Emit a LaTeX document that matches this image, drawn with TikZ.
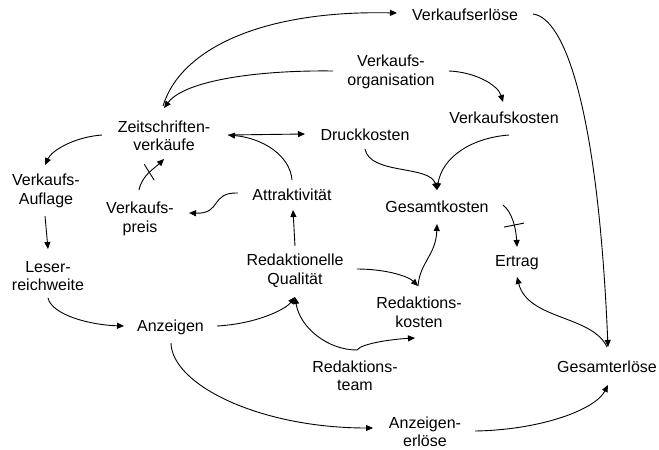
\documentclass[tikz,border=0pt]{standalone}
\usepackage{fontspec}
\setmainfont{Liberation Sans}
\usetikzlibrary{arrows.meta}
\begin{document}
\begin{tikzpicture}[x=1pt,y=-1pt,
  lbl/.style={align=center,inner sep=0pt,font=\fontsize{16}{18.5}\selectfont},
  conn/.style={line width=0.9pt,-{Triangle[length=7pt,width=6pt]}},
  barmark/.style={line width=0.9pt}]
\useasboundingbox (0,0) rectangle (659,450);
% nodes
\node[lbl] (zv) at (164,136) {Zeitschriften-\\verkäufe};
\node[lbl] (ve) at (465,15) {Verkaufserlöse};
\node[lbl] (vo) at (391,72) {Verkaufs-\\organisation};
\node[lbl] (dk) at (365,135) {Druckkosten};
\node[lbl] (vk) at (504,118) {Verkaufskosten};
\node[lbl] (va) at (46,191) {Verkaufs-\\Auflage};
\node[lbl] (vp) at (140,219) {Verkaufs-\\preis};
\node[lbl] (at) at (292,195) {Attraktivität};
\node[lbl] (gk) at (437,207) {Gesamtkosten};
\node[lbl] (lr) at (48,276) {Leser-\\reichweite};
\node[lbl] (rq) at (295,270.5) {Redaktionelle\\Qualität};
\node[lbl] (er) at (517,263) {Ertrag};
\node[lbl] (rk) at (419,312.5) {Redaktions-\\kosten};
\node[lbl] (an) at (170.5,327) {Anzeigen};
\node[lbl] (rt) at (355,376) {Redaktions-\\team};
\node[lbl] (ge) at (607,367) {Gesamterlöse};
\node[lbl] (ae) at (425,432) {Anzeigen-\\erlöse};
% connectors
\draw[conn] ([xshift=-1pt,yshift=30pt]zv.center) .. controls (180,50) and (260,10) .. ([xshift=-68pt,yshift=2pt]ve.center);
\draw[conn] ([xshift=-58pt,yshift=1pt]vo.center) .. controls (260,70) and (185,80) .. ([xshift=0pt,yshift=28pt]zv.center);
\draw[conn] ([xshift=64pt,yshift=1pt]zv.center) -- ([xshift=-60pt,yshift=1pt]dk.center);
\draw[conn] ([yshift=15pt]at.center) .. controls (290,155) and (262,138) .. ([xshift=64pt,yshift=1pt]zv.center);
\draw[conn] ([xshift=-62pt,yshift=1pt]zv.center) .. controls (75,137) and (52,150) .. ([xshift=-1pt,yshift=26pt]va.center);
\draw[conn] ([xshift=-1pt,yshift=-25pt]va.center) -- ([yshift=27pt]lr.center);
\draw[conn] ([yshift=-22pt]lr.center) .. controls (52,315) and (90,325) .. ([xshift=-46.5pt,yshift=1pt]an.center);
\draw[conn] ([xshift=46.5pt,yshift=1pt]an.center) .. controls (255,324) and (285,310) .. ([yshift=-26.5pt]rq.center);
\draw[conn] ([xshift=2pt,yshift=26pt]rt.center) .. controls (328,350) and (300,328) .. ([yshift=-26.5pt]rq.center);
\draw[conn] ([xshift=2pt,yshift=26pt]rt.center) .. controls (362,343) and (395,339) .. ([xshift=-4pt,yshift=-25.5pt]rk.center);
\draw[conn] ([yshift=24.5pt]rq.center) -- ([xshift=1pt,yshift=-15pt]at.center);
\draw[conn] ([xshift=-54pt,yshift=2pt]at.center) .. controls (210,192) and (222,214) .. ([xshift=49pt,yshift=6pt]vp.center);
\draw[conn] ([xshift=-1pt,yshift=29pt]vp.center) .. controls (142,175) and (155,168) .. coordinate[pos=0.5] (m1) ([yshift=-23pt]zv.center);
\draw[barmark] ([xshift=-5pt,yshift=8pt]m1) -- ([xshift=5pt,yshift=-8pt]m1);
\draw[conn] ([xshift=58pt,yshift=1pt]vo.center) .. controls (475,72) and (498,85) .. ([xshift=-1pt,yshift=16pt]vk.center);
\draw[conn] ([yshift=-14pt]dk.center) .. controls (370,175) and (430,165) .. ([yshift=17pt]gk.center);
\draw[conn] ([xshift=5pt,yshift=-17pt]vk.center) .. controls (470,138) and (442,158) .. ([yshift=17pt]gk.center);
\draw[conn] ([xshift=66pt,yshift=2pt]gk.center) .. controls (512,212) and (516,228) .. coordinate[pos=0.58] (m2) ([yshift=16pt]er.center);
\draw[barmark] ([xshift=-10pt,yshift=-2pt]m2) -- ([xshift=10pt,yshift=2pt]m2);
\draw[conn] ([xshift=-1pt,yshift=26.5pt]rk.center) .. controls (420,262) and (436,255) .. ([yshift=-17pt]gk.center);
\draw[conn] ([xshift=62pt,yshift=1.5pt]rq.center) .. controls (385,269) and (408,276) .. ([xshift=-1pt,yshift=26.5pt]rk.center);
\draw[conn] ([yshift=20pt]ge.center) .. controls (592,315) and (528,320) .. ([yshift=-14pt]er.center);
\draw[conn] ([xshift=68pt,yshift=1pt]ve.center) .. controls (565,18) and (598,110) .. ([xshift=1pt,yshift=20pt]ge.center);
\draw[conn] ([xshift=0.5pt,yshift=-16pt]an.center) .. controls (172,385) and (260,428) .. ([xshift=-52pt,yshift=4pt]ae.center);
\draw[conn] ([xshift=50pt,yshift=1pt]ae.center) .. controls (540,430) and (595,410) .. ([xshift=1pt,yshift=-18pt]ge.center);
\end{tikzpicture}
\end{document}
